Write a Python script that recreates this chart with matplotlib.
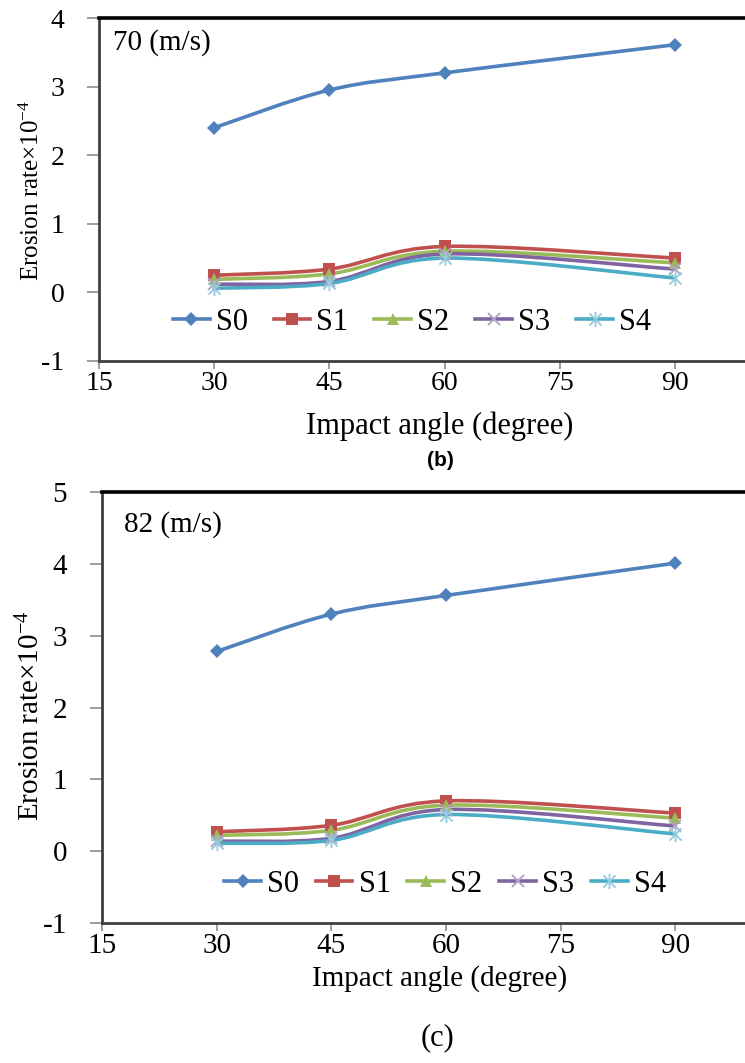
import numpy as np
import matplotlib
matplotlib.use("Agg")
import matplotlib.pyplot as plt
from matplotlib.path import Path
from matplotlib.patches import PathPatch
from matplotlib.lines import Line2D

plt.rcParams['font.family'] = ['Liberation Serif', 'DejaVu Serif']
plt.rcParams['mathtext.fontset'] = 'custom'
plt.rcParams['mathtext.rm'] = 'Liberation Serif'
plt.rcParams['mathtext.it'] = 'Liberation Serif:italic'
plt.rcParams['axes.unicode_minus'] = False

angles = [30, 45, 60, 90]
series_names = ['S0', 'S1', 'S2', 'S3', 'S4']

# erosion rate (x10^-4) at 70 m/s
rate_70 = {
    'S0': [2.40, 2.95, 3.20, 3.61],
    'S1': [0.25, 0.34, 0.67, 0.50],
    'S2': [0.19, 0.27, 0.60, 0.43],
    'S3': [0.12, 0.16, 0.56, 0.34],
    'S4': [0.06, 0.13, 0.50, 0.21],
}
# erosion rate (x10^-4) at 82 m/s
rate_82 = {
    'S0': [2.78, 3.30, 3.56, 4.01],
    'S1': [0.27, 0.36, 0.70, 0.53],
    'S2': [0.22, 0.29, 0.64, 0.46],
    'S3': [0.14, 0.18, 0.58, 0.35],
    'S4': [0.11, 0.15, 0.51, 0.24],
}

colors = {'S0': '#4F81BD', 'S1': '#C0504D', 'S2': '#9BBB59',
          'S3': '#8064A2', 'S4': '#4BACC6'}

# excel style star: an x with a vertical stroke
star = Path([(-1, -1), (1, 1), (-1, 1), (1, -1), (0, -1.25), (0, 1.25)],
            [Path.MOVETO, Path.LINETO, Path.MOVETO, Path.LINETO,
             Path.MOVETO, Path.LINETO])
markers = {'S0': dict(marker='D', ms=7, mew=0),
           'S1': dict(marker='s', ms=9, mew=0),
           'S2': dict(marker='^', ms=9, mew=0),
           'S3': dict(marker='x', ms=9, mew=1.4, mec='#B3A2C7'),
           'S4': dict(marker=star, ms=11, mew=1.3, mec='#93CDDD')}


def smooth_path(x, y):
    # catmull-rom segments written as cubic beziers
    pts = np.column_stack([x, y]).astype(float)
    n = len(pts)
    verts = [pts[0]]
    codes = [Path.MOVETO]
    for i in range(n - 1):
        p0 = pts[max(i - 1, 0)]
        p1 = pts[i]
        p2 = pts[i + 1]
        p3 = pts[min(i + 2, n - 1)]
        c1 = p1 + (p2 - p0) / 6.0
        c2 = p2 - (p3 - p1) / 6.0
        verts += [c1, c2, p2]
        codes += [Path.CURVE4] * 3
    return Path(verts, codes)


W, H = 745, 1063
fig = plt.figure(figsize=(W / 100, H / 100), dpi=100)


def draw_panel(rect, data, ylim, speed, speed_xy, ylabel_xy, ylabel_size,
               leg_xy, leg_gap, tick_size):
    ax = fig.add_axes(rect)
    for name in series_names:
        c = colors[name]
        patch = PathPatch(smooth_path(angles, data[name]), facecolor='none',
                          edgecolor=c, lw=2.6, capstyle='round')
        ax.add_patch(patch)
        mk = dict(markers[name])
        mk.setdefault('mec', c)
        ax.plot(angles, data[name], linestyle='none', color=c, mfc=c, **mk,
                zorder=3)
    ax.set_xlim(15, 105)
    ax.set_ylim(*ylim)
    ax.set_xticks([15, 30, 45, 60, 75, 90])
    ax.set_yticks(np.arange(ylim[0], ylim[1] + 1))
    ax.tick_params(direction='out', width=1.2, color='#8C8C8C',
                   labelsize=tick_size)
    ax.tick_params(axis='y', length=9, pad=16)
    ax.tick_params(axis='x', length=6, pad=1)
    for side in ['left', 'bottom']:
        ax.spines[side].set_color('#404040')
        ax.spines[side].set_linewidth(2.0)
    ax.spines['top'].set_color('black')
    ax.spines['top'].set_linewidth(2.6)
    ax.text(speed_xy[0] / W, 1 - speed_xy[1] / H, speed, fontsize=21,
            transform=fig.transFigure, ha='left', va='center')
    fig.text(ylabel_xy[0] / W, 1 - ylabel_xy[1] / H,
             'Erosion rate×10$^{-4}$', rotation=90, fontsize=ylabel_size,
             ha='center', va='center')

    handles = []
    for name in series_names:
        c = colors[name]
        mk = dict(markers[name])
        mk.setdefault('mec', c)
        handles.append(Line2D([], [], color=c, lw=2.6, mfc=c, **mk))
    ax.legend(handles, series_names, ncol=5, frameon=False, fontsize=22,
              loc='center', bbox_to_anchor=(leg_xy[0] / W, 1 - leg_xy[1] / H),
              bbox_transform=fig.transFigure, handlelength=1.2,
              handletextpad=0.2, columnspacing=leg_gap, borderaxespad=0)
    return ax


draw_panel([99 / W, (H - 361) / H, 691 / W, 343 / H], rate_70, (-1, 4),
           '70 (m/s)', (113, 43), (32, 190), 18, (412, 322), 0.85, 20)
fig.text(440 / W, 1 - 426 / H, 'Impact angle (degree)', fontsize=22,
         ha='center', va='center')
fig.text(440 / W, 1 - 461 / H, '(b)', fontsize=15, fontweight='bold',
         family=['Liberation Sans', 'DejaVu Sans'], ha='center', va='center')

draw_panel([102 / W, (H - 923) / H, 688 / W, 431 / H], rate_82, (-1, 5),
           '82 (m/s)', (124, 525), (31, 716), 21, (445, 884), 0.55, 21)
fig.text(440 / W, 1 - 979 / H, 'Impact angle (degree)', fontsize=21,
         ha='center', va='center')
fig.text(437 / W, 1 - 1038 / H, '(c)', fontsize=22,
         ha='center', va='center')

fig.savefig('out.png', dpi=100)
